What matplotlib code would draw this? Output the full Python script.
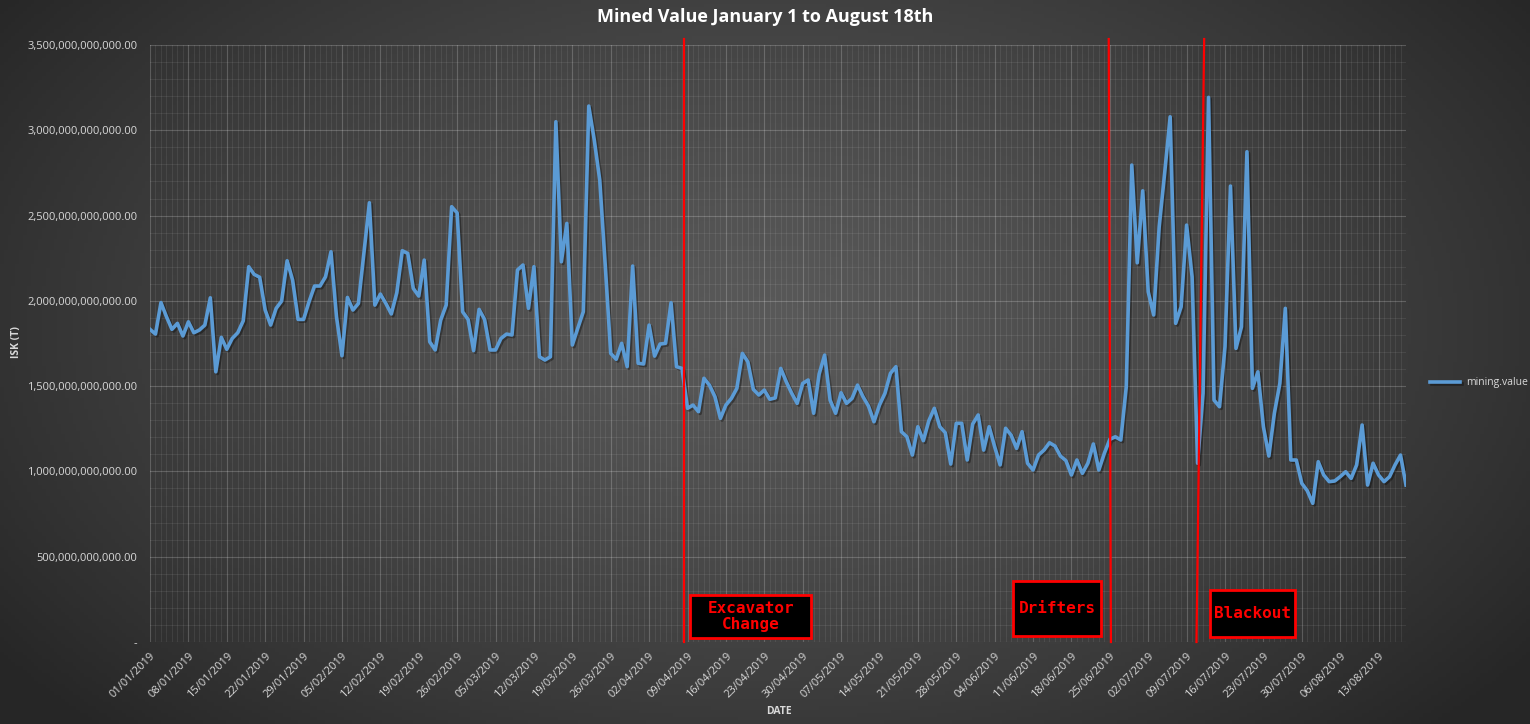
import numpy as np
import pandas as pd
import matplotlib
matplotlib.use("Agg")
import matplotlib.pyplot as plt
import matplotlib.patheffects as pe
from matplotlib.patches import Rectangle
from matplotlib.ticker import FuncFormatter, MultipleLocator
from matplotlib.transforms import blended_transform_factory

# daily dates shown on the x axis
dates = pd.date_range("2019-01-01", "2019-08-18", freq="D")

# mined value per day, in trillions of ISK
mined_t = [
    1.833, 1.805, 1.990, 1.907, 1.833, 1.868, 1.794, 1.877, 1.813, 1.829,
    1.858, 2.018, 1.584, 1.786, 1.716, 1.780, 1.813, 1.883, 2.200, 2.155,
    2.138, 1.946, 1.858, 1.956, 1.999, 2.235, 2.122, 1.891, 1.891, 1.995,
    2.087, 2.087, 2.141, 2.288, 1.907, 1.678, 2.020, 1.946, 1.985, 2.280,
    2.575, 1.975, 2.040, 1.985, 1.923, 2.048, 2.294, 2.278, 2.073, 2.028,
    2.239, 1.760, 1.712, 1.887, 1.975, 2.552, 2.516, 1.936, 1.891, 1.708,
    1.950, 1.891, 1.712, 1.712, 1.780, 1.805, 1.800, 2.181, 2.210, 1.956,
    2.200, 1.672, 1.653, 1.672, 3.050, 2.229, 2.454, 1.741, 1.840, 1.936,
    3.142, 2.943, 2.708, 2.210, 1.692, 1.657, 1.751, 1.614, 2.204, 1.634,
    1.630, 1.858, 1.676, 1.747, 1.751, 1.989, 1.614, 1.604, 1.370, 1.389,
    1.350, 1.546, 1.506, 1.438, 1.311, 1.389, 1.428, 1.487, 1.692, 1.643,
    1.481, 1.448, 1.477, 1.423, 1.431, 1.604, 1.526, 1.458, 1.399, 1.516,
    1.536, 1.341, 1.571, 1.682, 1.418, 1.341, 1.461, 1.399, 1.428, 1.506,
    1.438, 1.383, 1.291, 1.389, 1.458, 1.575, 1.614, 1.233, 1.203, 1.096,
    1.262, 1.180, 1.297, 1.370, 1.262, 1.227, 1.043, 1.282, 1.282, 1.067,
    1.278, 1.331, 1.125, 1.262, 1.145, 1.038, 1.253, 1.213, 1.135, 1.233,
    1.048, 1.008, 1.096, 1.125, 1.168, 1.149, 1.090, 1.063, 0.979, 1.067,
    0.989, 1.048, 1.161, 1.008, 1.106, 1.188, 1.203, 1.184, 1.496, 2.796,
    2.223, 2.645, 2.053, 1.917, 2.434, 2.750, 3.079, 1.868, 1.965, 2.444,
    2.141, 1.048, 1.458, 3.193, 1.418, 1.379, 1.731, 2.673, 1.721, 1.848,
    2.874, 1.487, 1.584, 1.262, 1.090, 1.341, 1.516, 1.956, 1.067, 1.067,
    0.930, 0.887, 0.813, 1.057, 0.979, 0.940, 0.944, 0.969, 0.998, 0.959,
    1.038, 1.272, 0.920, 1.048, 0.979, 0.940, 0.969, 1.038, 1.096, 0.920,
]

# event markers (hand drawn lines, day index at top and bottom)
event_names = ["Excavator\nChange", "Drifters", "Blackout"]
event_top = [97.3, 174.8, 192.2]
event_bottom = [97.3, 175.2, 190.8]
# label boxes: day range and value range (trillions)
box_x = [(98.4, 120.6), (157.4, 173.3), (193.2, 208.7)]
box_y = [(0.023, 0.275), (0.035, 0.358), (0.029, 0.305)]

W, H = 1530, 724
fig = plt.figure(figsize=(W / 100, H / 100), dpi=100)
plt.rcParams['font.family'] = ['Open Sans', 'DejaVu Sans']

# radial dark background
bg = fig.add_axes([0, 0, 1, 1], zorder=-10)
gx, gy = np.meshgrid(np.linspace(0, 1, 400), np.linspace(0, 1, 200))
r = np.sqrt(((gx - 0.5) / 0.62) ** 2 + ((gy - 0.45) / 0.8) ** 2)
r = np.clip(r, 0, 1) ** 1.3
c_in, c_out = 0x59 / 255, 0x26 / 255
shade = c_in + (c_out - c_in) * r
img = np.dstack([shade, shade, shade])
bg.imshow(img, extent=[0, 1, 0, 1], aspect='auto', origin='upper')
bg.axis('off')

ax = fig.add_axes([150 / W, 1 - 642 / H, (1406 - 150) / W, (642 - 45) / H])
ax.set_facecolor('none')

x = np.arange(len(dates))
y = np.array(mined_t) * 1e12
line, = ax.plot(x, y, color='#5b9bd5', lw=2.6, solid_joinstyle='round',
                label='mining.value',
                path_effects=[pe.SimpleLineShadow(offset=(1.2, -1.2), shadow_color='black', alpha=0.35),
                              pe.Normal()])

ax.set_xlim(0, len(dates) - 1)
ax.set_ylim(0, 3.5e12)

ax.yaxis.set_major_locator(MultipleLocator(5e11))
ax.yaxis.set_minor_locator(MultipleLocator(1e11))
ax.yaxis.set_major_formatter(FuncFormatter(lambda v, p: '-' if v == 0 else f'{v:,.2f}'))

xt = x[::7]
ax.set_xticks(xt)
ax.set_xticklabels(dates[::7].strftime('%d/%m/%Y'), rotation=45, ha='right',
                   rotation_mode='anchor')
ax.xaxis.set_minor_locator(MultipleLocator(1))

ax.tick_params(axis='both', which='both', length=0, colors='#d9d9d9', labelsize=8)
ax.tick_params(axis='x', pad=6)
ax.tick_params(axis='y', pad=9)

ax.grid(which='major', color='white', alpha=0.2, lw=0.8)
ax.grid(which='minor', color='white', alpha=0.08, lw=0.7)
ax.set_axisbelow(True)
for s in ax.spines.values():
    s.set_visible(False)

# events
tr = blended_transform_factory(ax.transData, ax.transAxes)
for name, xt0, xb0, bx, by in zip(event_names, event_top, event_bottom, box_x, box_y):
    ax.plot([xt0, xb0], [1.01, 0], color='#ff0000', lw=1.6, transform=tr, clip_on=False, zorder=4)
    ax.add_patch(Rectangle((bx[0], by[0] * 1e12), bx[1] - bx[0], (by[1] - by[0]) * 1e12,
                           facecolor='black', edgecolor='#ff0000', lw=2, zorder=5))
    ax.text((bx[0] + bx[1]) / 2, (by[0] + by[1]) / 2 * 1e12, name, color='#ff0000',
            family='DejaVu Sans Mono', fontweight='bold', fontsize=11.5,
            ha='center', va='center', linespacing=1.1, zorder=6)

fig.text(0.5, 1 - 17 / H, 'Mined Value January 1 to August 18th', color='white',
         fontsize=13, fontweight='bold', ha='center', va='center')
fig.text(17 / W, 1 - 342 / H, 'ISK (T)', color='#d9d9d9', fontsize=7.5,
         fontweight='bold', rotation=90, ha='center', va='center')
fig.text(779 / W, 1 - 712 / H, 'DATE', color='#d9d9d9', fontsize=7.5,
         fontweight='bold', ha='center', va='center')

fig.legend(handles=[line], loc='center left', bbox_to_anchor=(1430 / W, 1 - 383 / H),
           frameon=False, fontsize=7.5, labelcolor='#d9d9d9', handlelength=2.9,
           handletextpad=0.6, borderpad=0, borderaxespad=0)

fig.savefig('out.png', dpi=100)
